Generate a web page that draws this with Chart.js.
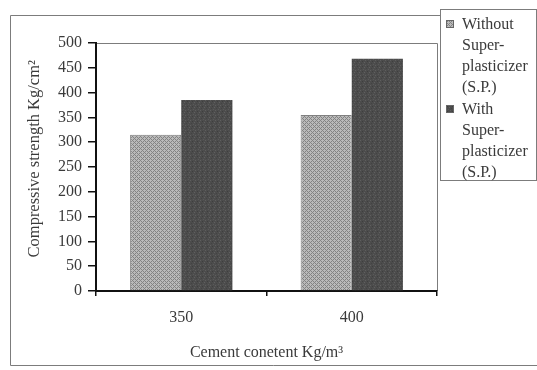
<!DOCTYPE html>
<html>
<head>
<meta charset="utf-8">
<script src="https://cdn.jsdelivr.net/npm/chart.js@4/dist/chart.umd.min.js"></script>
<style>
  html, body { margin: 0; padding: 0; background: #fff; }
  #wrap { width: 537px; height: 370px; }
</style>
</head>
<body>
<div id="wrap"><canvas id="c" width="537" height="370"></canvas></div>
<script>
// Compressive strength by cement content, with and without superplasticizer
const categories = ['350', '400'];
const withoutSP = [315, 355];
const withSP = [385, 468];
const yTicks = [0, 50, 100, 150, 200, 250, 300, 350, 400, 450, 500];
const legendWithout = ['Without', 'Super-', 'plasticizer', '(S.P.)'];
const legendWith = ['With', 'Super-', 'plasticizer', '(S.P.)'];
const yTitle = 'Compressive strength Kg/cm\u00B2';
const xTitle = 'Cement conetent Kg/m\u00B3';

const SERIF = "'Liberation Serif', 'Times New Roman', serif";
const TEXT = '#3a3a3a';

// fine cross-hatched light grey fill
function hatchPattern() {
  const t = document.createElement('canvas');
  t.width = 4; t.height = 4;
  const g = t.getContext('2d');
  for (let y = 0; y < 4; y++) {
    for (let x = 0; x < 4; x++) {
      const dark = (x + y) % 4 === 0 || (x - y + 4) % 4 === 0;
      g.fillStyle = dark ? '#838383' : '#bababa';
      g.fillRect(x, y, 1, 1);
    }
  }
  return g.createPattern(t, 'repeat');
}

// mottled dark grey fill
function mottledPattern() {
  const t = document.createElement('canvas');
  t.width = 5; t.height = 5;
  const g = t.getContext('2d');
  g.fillStyle = '#4c4c4c';
  g.fillRect(0, 0, 5, 5);
  const spots = [[0, 0, '#5e5e5e'], [2, 1, '#3e3e3e'], [4, 2, '#606060'], [1, 3, '#434343'], [3, 4, '#5a5a5a']];
  spots.forEach(([x, y, c]) => { g.fillStyle = c; g.fillRect(x, y, 1, 1); });
  return g.createPattern(t, 'repeat');
}

const ctx = document.getElementById('c').getContext('2d');
const fillWithout = hatchPattern();
const fillWith = mottledPattern();

// outer border and the thin top/right frame of the plot area
const framePlugin = {
  id: 'frame',
  beforeDraw(chart) {
    const c = chart.ctx, a = chart.chartArea;
    c.save();
    c.strokeStyle = '#7c7c7c';
    c.lineWidth = 1;
    c.beginPath();
    c.moveTo(10.5, 365.5); c.lineTo(10.5, 15.5); c.lineTo(440, 15.5);
    c.moveTo(10.5, 365.5); c.lineTo(537, 365.5);
    c.moveTo(a.left, a.top + 0.5); c.lineTo(a.right + 0.5, a.top + 0.5); c.lineTo(a.right + 0.5, a.bottom);
    c.stroke();
    c.restore();
  }
};

// boxed legend with wrapped labels at the upper right
const legendPlugin = {
  id: 'boxLegend',
  afterDraw(chart) {
    const c = chart.ctx;
    const boxL = 440.5, boxT = 9.5, boxR = 536.5, boxB = 180.5;
    const lineH = 21, swatch = 8, swX = 446, txX = 462;
    c.save();
    c.strokeStyle = '#7c7c7c';
    c.lineWidth = 1;
    c.fillStyle = '#fff';
    c.fillRect(boxL, boxT, boxR - boxL, boxB - boxT);
    c.strokeRect(boxL, boxT, boxR - boxL, boxB - boxT);
    c.font = '16px ' + SERIF;
    c.textBaseline = 'middle';
    c.textAlign = 'left';
    let y = 25;
    chart.data.datasets.forEach(ds => {
      c.fillStyle = ds.backgroundColor;
      c.fillRect(swX, y - 5, swatch, swatch);
      c.strokeStyle = '#666';
      c.strokeRect(swX + 0.5, y - 4.5, swatch - 1, swatch - 1);
      c.fillStyle = TEXT;
      ds.label.forEach((line, i) => c.fillText(line, txX, y + i * lineH));
      y += ds.label.length * lineH + 1;
    });
    c.restore();
  }
};

new Chart(ctx, {
  type: 'bar',
  data: {
    labels: categories,
    datasets: [
      { label: legendWithout, data: withoutSP, backgroundColor: fillWithout, borderColor: '#808080', borderWidth: 1, borderSkipped: 'bottom' },
      { label: legendWith, data: withSP, backgroundColor: fillWith, borderWidth: 0 }
    ]
  },
  options: {
    responsive: false,
    animation: false,
    devicePixelRatio: 1,
    layout: { padding: { left: 10, right: 100, top: 43, bottom: 0 } },
    datasets: { bar: { categoryPercentage: 0.6, barPercentage: 1.0 } },
    plugins: { legend: { display: false }, tooltip: { enabled: false } },
    scales: {
      x: {
        offset: true,
        afterFit(s) { s.height = 79; },
        grid: { offset: true, drawOnChartArea: false, drawTicks: true, tickLength: 5, color: '#111', lineWidth: 1.5 },
        border: { display: true, color: '#111', width: 2 },
        ticks: { color: TEXT, font: { family: SERIF, size: 16 }, padding: 12 },
        title: { display: true, text: xTitle, color: TEXT, font: { family: SERIF, size: 16 }, padding: { top: 0, bottom: 8 } }
      },
      y: {
        min: 0,
        max: 500,
        afterFit(s) { s.width = 86; },
        afterBuildTicks(s) { s.ticks = yTicks.map(v => ({ value: v })); },
        grid: { drawOnChartArea: false, drawTicks: true, tickLength: 8, color: '#111', lineWidth: 1.5 },
        border: { display: true, color: '#111', width: 2 },
        ticks: { color: TEXT, font: { family: SERIF, size: 16 }, padding: 6 },
        // leading spaces lift the rotated title slightly above the axis midpoint
        title: { display: true, text: '\u00A0\u00A0\u00A0\u00A0' + yTitle, color: TEXT, font: { family: SERIF, size: 16.5 }, padding: { top: 15, bottom: 0 } }
      }
    }
  },
  plugins: [framePlugin, legendPlugin]
});
</script>
</body>
</html>
